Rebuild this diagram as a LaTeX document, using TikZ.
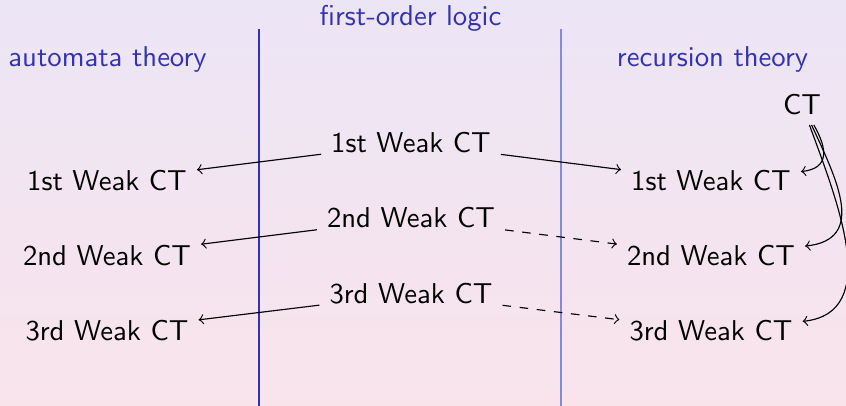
\documentclass[tikz,border=0pt]{standalone}
\usetikzlibrary{arrows}
\definecolor{struct}{RGB}{51,51,178}
\definecolor{structlight}{RGB}{136,136,218}
\definecolor{bgtop}{RGB}{236,229,246}
\definecolor{bgbot}{RGB}{249,228,235}
\begin{document}
\begin{tikzpicture}[x=0.3485pt,y=-0.3485pt,
  every node/.style={font=\sffamily},
  head/.style={text=struct,anchor=base},
  item/.style={anchor=center},
  conn/.style={->},
  dconn/.style={->,dashed}]
\path[use as bounding box,top color=bgtop,bottom color=bgbot] (0,0) rectangle (846,406);
% column separators
\coordinate (s1t) at (259,29);
\coordinate (s1b) at (259,406);
\coordinate (s2t) at (561,29);
\coordinate (s2b) at (561,406);
\draw[struct] (s1t) -- (s1b);
\draw[structlight] (s2t) -- (s2b);
% headings
\node[head] (ha) at (107.5,67) {automata theory};
\node[head] (hf) at (410.5,26) {first-order logic};
\node[head] (hr) at (712.5,67) {recursion theory};
% nodes
\node[item] (ct) at (802,104.5) {CT};
\node[item] (l1) at (107,181) {1st Weak CT};
\node[item] (l2) at (107,256) {2nd Weak CT};
\node[item] (l3) at (107,331) {3rd Weak CT};
\node[item] (m1) at (411,143) {1st Weak CT};
\node[item] (m2) at (411,218) {2nd Weak CT};
\node[item] (m3) at (411,294) {3rd Weak CT};
\node[item] (r1) at (711,181) {1st Weak CT};
\node[item] (r2) at (711,256) {2nd Weak CT};
\node[item] (r3) at (711,331) {3rd Weak CT};
% connectors
\draw[conn] (m1) -- (l1);
\draw[conn] (m2) -- (l2);
\draw[conn] (m3) -- (l3);
\draw[conn] (m1) -- (r1);
\draw[dconn] (m2) -- (r2);
\draw[dconn] (m3) -- (r3);
\draw[conn] (ct) to[out=-60,in=6,looseness=1.5] (r1);
\draw[conn] (ct) to[out=-65,in=6,looseness=1.3] (r2);
\draw[conn] (ct) to[out=-70,in=6,looseness=1.05] (r3);
\end{tikzpicture}
\end{document}
